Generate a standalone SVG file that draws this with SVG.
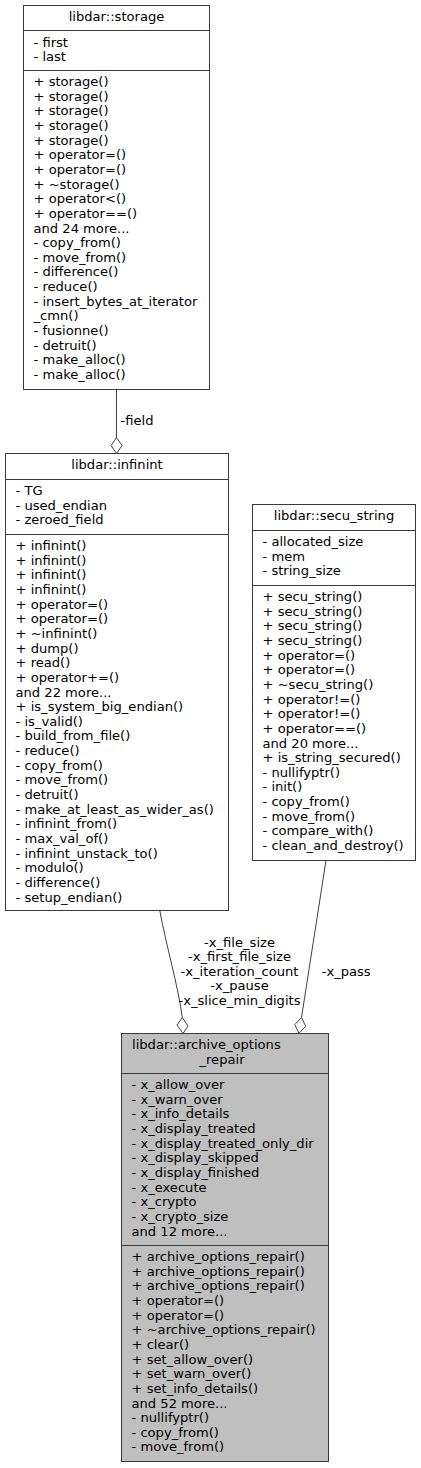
<svg xmlns="http://www.w3.org/2000/svg" width="421" height="1468" viewBox="0 0 421 1468">
<style>
text{font-family:"DejaVu Sans","Noto Sans",sans-serif;font-size:13.1px;fill:#000}
.box{fill:#fff;stroke:#3a3a3a;stroke-width:1}
.main{fill:#bfbfbf;stroke:#3a3a3a;stroke-width:1}
.sep{stroke:#3a3a3a;stroke-width:1}
.c{text-anchor:middle}
.edge{fill:none;stroke:#404040;stroke-width:1}
.dia{fill:#fff;stroke:#404040;stroke-width:1}
</style>
<rect width="421" height="1468" fill="#fff"/>
<g id="node-storage">
<rect class="box" x="23.5" y="5.5" width="186" height="384"/>
<line class="sep" x1="23.5" y1="30.5" x2="209.5" y2="30.5"/>
<line class="sep" x1="23.5" y1="70.5" x2="209.5" y2="70.5"/>
<text class="c" x="116.5" y="20.5">libdar::storage</text>
<text x="33.5" y="46.5">- first</text>
<text x="33.5" y="61.2">- last</text>
<text x="33.5" y="86">+ storage()</text>
<text x="33.5" y="100.65">+ storage()</text>
<text x="33.5" y="115.3">+ storage()</text>
<text x="33.5" y="129.95">+ storage()</text>
<text x="33.5" y="144.6">+ storage()</text>
<text x="33.5" y="159.25">+ operator=()</text>
<text x="33.5" y="173.9">+ operator=()</text>
<text x="33.5" y="188.55">+ ~storage()</text>
<text x="33.5" y="203.2">+ operator&lt;()</text>
<text x="33.5" y="217.85">+ operator==()</text>
<text x="33.5" y="232.5">and 24 more...</text>
<text x="33.5" y="247.15">- copy_from()</text>
<text x="33.5" y="261.8">- move_from()</text>
<text x="33.5" y="276.45">- difference()</text>
<text x="33.5" y="291.1">- reduce()</text>
<text x="33.5" y="305.75">- insert_bytes_at_iterator</text>
<text x="33.5" y="320.4">_cmn()</text>
<text x="33.5" y="335.05">- fusionne()</text>
<text x="33.5" y="349.7">- detruit()</text>
<text x="33.5" y="364.35">- make_alloc()</text>
<text x="33.5" y="379">- make_alloc()</text>
</g>
<g id="node-infinint">
<rect class="box" x="5.5" y="453.5" width="223" height="457"/>
<line class="sep" x1="5.5" y1="479.5" x2="228.5" y2="479.5"/>
<line class="sep" x1="5.5" y1="534.5" x2="228.5" y2="534.5"/>
<text class="c" x="117" y="469">libdar::infinint</text>
<text x="15.5" y="495">- TG</text>
<text x="15.5" y="509.65">- used_endian</text>
<text x="15.5" y="524.3">- zeroed_field</text>
<text x="15.5" y="550">+ infinint()</text>
<text x="15.5" y="564.65">+ infinint()</text>
<text x="15.5" y="579.3">+ infinint()</text>
<text x="15.5" y="593.95">+ infinint()</text>
<text x="15.5" y="608.6">+ operator=()</text>
<text x="15.5" y="623.25">+ operator=()</text>
<text x="15.5" y="637.9">+ ~infinint()</text>
<text x="15.5" y="652.55">+ dump()</text>
<text x="15.5" y="667.2">+ read()</text>
<text x="15.5" y="681.85">+ operator+=()</text>
<text x="15.5" y="696.5">and 22 more...</text>
<text x="15.5" y="711.15">+ is_system_big_endian()</text>
<text x="15.5" y="725.8">- is_valid()</text>
<text x="15.5" y="740.45">- build_from_file()</text>
<text x="15.5" y="755.1">- reduce()</text>
<text x="15.5" y="769.75">- copy_from()</text>
<text x="15.5" y="784.4">- move_from()</text>
<text x="15.5" y="799.05">- detruit()</text>
<text x="15.5" y="813.7">- make_at_least_as_wider_as()</text>
<text x="15.5" y="828.35">- infinint_from()</text>
<text x="15.5" y="843">- max_val_of()</text>
<text x="15.5" y="857.65">- infinint_unstack_to()</text>
<text x="15.5" y="872.3">- modulo()</text>
<text x="15.5" y="886.95">- difference()</text>
<text x="15.5" y="901.6">- setup_endian()</text>
</g>
<g id="node-secu_string">
<rect class="box" x="252.5" y="504.5" width="163" height="356"/>
<line class="sep" x1="252.5" y1="530.5" x2="415.5" y2="530.5"/>
<line class="sep" x1="252.5" y1="585.5" x2="415.5" y2="585.5"/>
<text class="c" x="334" y="520">libdar::secu_string</text>
<text x="262.5" y="546">- allocated_size</text>
<text x="262.5" y="560.65">- mem</text>
<text x="262.5" y="575.3">- string_size</text>
<text x="262.5" y="601">+ secu_string()</text>
<text x="262.5" y="615.65">+ secu_string()</text>
<text x="262.5" y="630.3">+ secu_string()</text>
<text x="262.5" y="644.95">+ secu_string()</text>
<text x="262.5" y="659.6">+ operator=()</text>
<text x="262.5" y="674.25">+ operator=()</text>
<text x="262.5" y="688.9">+ ~secu_string()</text>
<text x="262.5" y="703.55">+ operator!=()</text>
<text x="262.5" y="718.2">+ operator!=()</text>
<text x="262.5" y="732.85">+ operator==()</text>
<text x="262.5" y="747.5">and 20 more...</text>
<text x="262.5" y="762.15">+ is_string_secured()</text>
<text x="262.5" y="776.8">- nullifyptr()</text>
<text x="262.5" y="791.45">- init()</text>
<text x="262.5" y="806.1">- copy_from()</text>
<text x="262.5" y="820.75">- move_from()</text>
<text x="262.5" y="835.4">- compare_with()</text>
<text x="262.5" y="850.05">- clean_and_destroy()</text>
</g>
<g id="node-archive_options_repair">
<rect class="main" x="121.5" y="1033.5" width="207" height="428"/>
<line class="sep" x1="121.5" y1="1073.5" x2="328.5" y2="1073.5"/>
<line class="sep" x1="121.5" y1="1245.5" x2="328.5" y2="1245.5"/>
<text x="132" y="1049">libdar::archive_options</text>
<text class="c" x="222" y="1063.65">_repair</text>
<text x="131.5" y="1089">- x_allow_over</text>
<text x="131.5" y="1103.65">- x_warn_over</text>
<text x="131.5" y="1118.3">- x_info_details</text>
<text x="131.5" y="1132.95">- x_display_treated</text>
<text x="131.5" y="1147.6">- x_display_treated_only_dir</text>
<text x="131.5" y="1162.25">- x_display_skipped</text>
<text x="131.5" y="1176.9">- x_display_finished</text>
<text x="131.5" y="1191.55">- x_execute</text>
<text x="131.5" y="1206.2">- x_crypto</text>
<text x="131.5" y="1220.85">- x_crypto_size</text>
<text x="131.5" y="1235.5">and 12 more...</text>
<text x="131.5" y="1261">+ archive_options_repair()</text>
<text x="131.5" y="1275.65">+ archive_options_repair()</text>
<text x="131.5" y="1290.3">+ archive_options_repair()</text>
<text x="131.5" y="1304.95">+ operator=()</text>
<text x="131.5" y="1319.6">+ operator=()</text>
<text x="131.5" y="1334.25">+ ~archive_options_repair()</text>
<text x="131.5" y="1348.9">+ clear()</text>
<text x="131.5" y="1363.55">+ set_allow_over()</text>
<text x="131.5" y="1378.2">+ set_warn_over()</text>
<text x="131.5" y="1392.85">+ set_info_details()</text>
<text x="131.5" y="1407.5">and 52 more...</text>
<text x="131.5" y="1422.15">- nullifyptr()</text>
<text x="131.5" y="1436.8">- copy_from()</text>
<text x="131.5" y="1451.45">- move_from()</text>
</g>
<g id="connectors">
<path class="edge" d="M116.5,389.5 L116.5,437.5"/>
<polygon class="dia" points="116.5,437.5 122,445.5 116.5,453.5 111,445.5"/>
<text x="120.5" y="425">-field</text>
<path class="edge" d="M159.8,910.5 C166,945 178,985 182.3,1017.5"/>
<polygon class="dia" points="182.3,1017.5 188,1026 183,1033.5 177,1025"/>
<text class="c" x="239.5" y="946.5">-x_file_size</text>
<text class="c" x="239.5" y="961">-x_first_file_size</text>
<text class="c" x="239.5" y="975.5">-x_iteration_count</text>
<text class="c" x="239.5" y="990">-x_pause</text>
<text class="c" x="239.5" y="1004.5">-x_slice_min_digits</text>
<path class="edge" d="M326,860.5 L301.5,1017.5"/>
<polygon class="dia" points="301.5,1017.5 305.7,1026.3 299,1033.3 294.8,1024.6"/>
<text x="321.7" y="975.5">-x_pass</text>
</g>
</svg>
